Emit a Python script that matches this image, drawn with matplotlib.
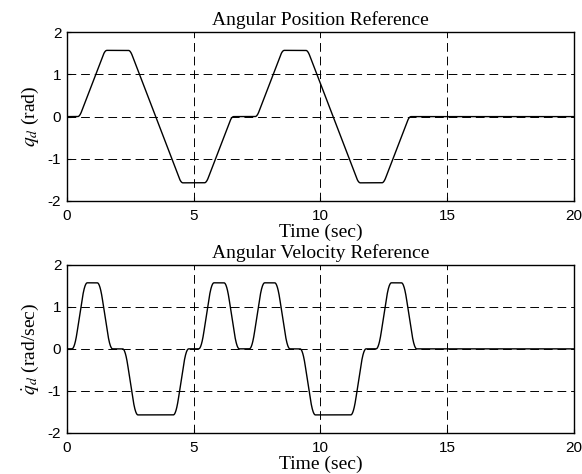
#Plots the joint reference trajectories: angular position and angular velocity
import matplotlib
matplotlib.use("Agg")
import matplotlib.pyplot as plt
import numpy

#Position breakpoints (sec, rad)
posTime = [0.0, 0.5, 1.5, 2.5, 4.5, 5.5, 6.5, 7.5, 8.5, 9.5, 11.5, 12.5, 13.5, 20.0]
posValue = [0.0, 0.0, 1.57, 1.57, -1.57, -1.57, 0.0, 0.0, 1.57, 1.57, -1.57, -1.57, 0.0, 0.0]

#Velocity breakpoints (sec, rad/sec), each pulse edge takes about 0.4 sec
velTime = [0.0, 0.3, 0.7, 1.3, 1.7, 2.3, 2.7, 4.3, 4.7, 5.3, 5.7, 6.3, 6.7,
           7.3, 7.7, 8.3, 8.7, 9.3, 9.7, 11.3, 11.7, 12.3, 12.7, 13.3, 13.7, 20.0]
velValue = [0.0, 0.0, 1.57, 1.57, 0.0, 0.0, -1.57, -1.57, 0.0, 0.0, 1.57, 1.57, 0.0,
            0.0, 1.57, 1.57, 0.0, 0.0, -1.57, -1.57, 0.0, 0.0, 1.57, 1.57, 0.0, 0.0]

xTicks = [0, 5, 10, 15, 20]
yTicks = [-2, -1, 0, 1, 2]

#Resamples the breakpoints and softens the corners a little
def smoothCurve(times, values, window):
    t = numpy.linspace(0.0, 20.0, 4001)
    v = numpy.interp(t, times, values)
    n = int(window / (t[1] - t[0])) | 1
    padded = numpy.pad(v, n // 2, mode="edge")
    return t, numpy.convolve(padded, numpy.ones(n) / n, mode="valid")

def styleAxes(ax, title, ylabel):
    ax.set_xlim(0, 20)
    ax.set_ylim(-2, 2)
    ax.set_xticks(xTicks)
    ax.set_yticks(yTicks)
    ax.tick_params(direction="in", length=3, labelsize=11)
    ax.tick_params(axis="x", pad=6)
    ax.tick_params(axis="y", pad=4)
    for lab in ax.get_xticklabels() + ax.get_yticklabels():
        lab.set_family("Liberation Sans")
    for x in xTicks[1:-1]:
        ax.axvline(x, color="black", lw=0.7, ls=(0, (9, 5)), zorder=1)
    for y in yTicks[1:-1]:
        ax.axhline(y, color="black", lw=0.7, ls=(0, (9, 5)), zorder=1)
    for spine in ax.spines.values():
        spine.set_linewidth(1.0)
    ax.set_title(title, fontsize=14, family="Liberation Serif", pad=5)
    ax.set_xlabel("Time (sec)", fontsize=14, family="Liberation Serif", labelpad=0)
    ax.set_ylabel(ylabel, fontsize=14, family="Liberation Serif", labelpad=5)

plt.rcParams["mathtext.fontset"] = "stix"
plt.rcParams["axes.unicode_minus"] = False

fig = plt.figure(figsize=(5.82, 4.74), dpi=100)
axPos = fig.add_axes([0.115, 0.576, 0.871, 0.356])
axVel = fig.add_axes([0.115, 0.0865, 0.871, 0.355])

t, q = smoothCurve(posTime, posValue, 0.15)
axPos.plot(t, q, color="black", lw=1.0, zorder=3)
styleAxes(axPos, "Angular Position Reference", r"$q_d$ (rad)")

t, qd = smoothCurve(velTime, velValue, 0.2)
axVel.plot(t, qd, color="black", lw=1.0, zorder=3)
styleAxes(axVel, "Angular Velocity Reference", r"$\dot{q}_d$ (rad/sec)")

fig.savefig("out.png", dpi=100)
